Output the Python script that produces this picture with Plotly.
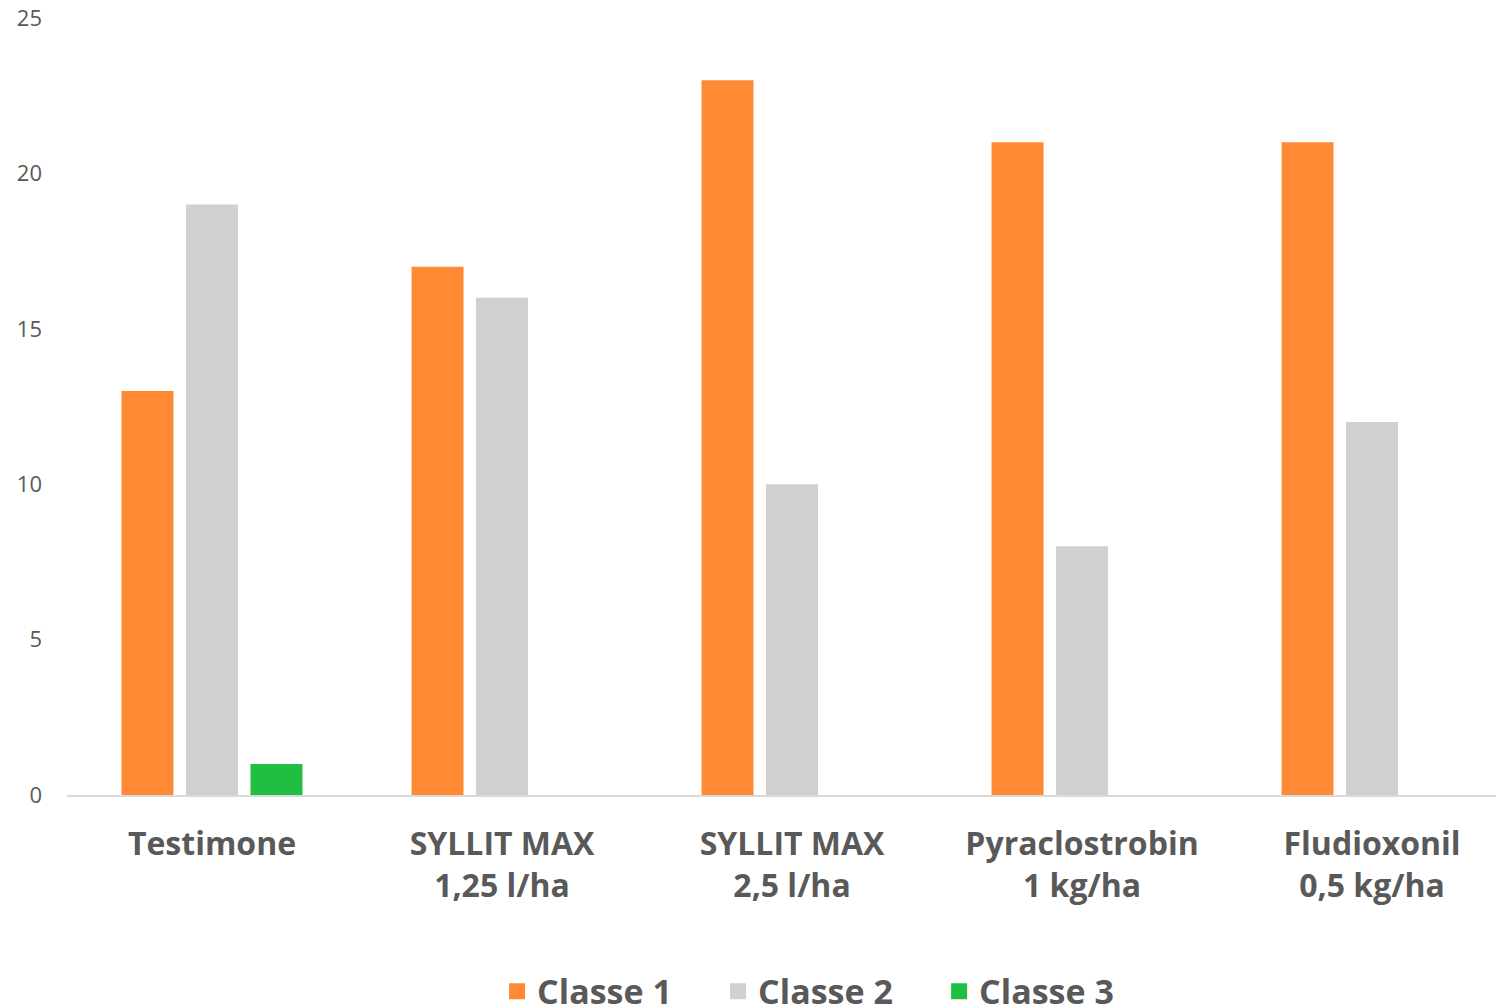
import plotly.graph_objects as go

categories = ["Testimone", "SYLLIT MAX<br>1,25 l/ha", "SYLLIT MAX<br>2,5 l/ha",
              "Pyraclostrobin<br>1 kg/ha", "Fludioxonil<br>0,5 kg/ha"]
classe_1 = [13, 17, 23, 21, 21]
classe_2 = [19, 16, 10, 8, 12]
classe_3 = [1, 0, 0, 0, 0]
series_names = ["Classe 1", "Classe 2", "Classe 3"]
colors = ["#FF8A33", "#D0D0D0", "#21BE42"]

FONT = "Open Sans"
GREY = "#595959"

fig = go.Figure()
for name, vals, col in zip(series_names, [classe_1, classe_2, classe_3], colors):
    fig.add_trace(go.Bar(x=categories, y=vals, name=name, marker_color=col,
                         marker_line_width=0, legendgroup=name, showlegend=False))
    # proxy for bigger square legend symbols
    fig.add_trace(go.Scatter(x=[None], y=[None], mode="markers", name=name,
                             legendgroup=name,
                             marker=dict(symbol="square", size=22, color=col)))

# page has an 8px body margin, so offsets are compensated here
fig.update_layout(
    width=1504, height=1008,
    paper_bgcolor="white", plot_bgcolor="white",
    margin=dict(l=59, r=8, t=10, b=221, autoexpand=False),
    barmode="group", bargap=0.333, bargroupgap=0.194,
    font=dict(family=FONT, color=GREY),
    legend=dict(orientation="h", x=0.53, xanchor="center", y=-0.253, yanchor="middle",
                font=dict(size=34, family=FONT, weight="bold", color=GREY),
                itemwidth=30, entrywidth=176, entrywidthmode="pixels"),
)
fig.update_xaxes(range=[-0.5, 4.455], showgrid=False, zeroline=False, automargin=False,
                 showline=True, linecolor="#D9D9D9", linewidth=2,
                 ticks="", tickfont=dict(size=32, family=FONT, weight="bold", color=GREY),
                 ticklabelstandoff=20)
fig.update_yaxes(range=[0, 25], dtick=5, showgrid=False, zeroline=False, automargin=False,
                 showline=False, ticks="", tickfont=dict(size=22, family=FONT, color=GREY),
                 ticklabelstandoff=24, ticklabeloverflow="allow")

fig.write_html("out.html")
